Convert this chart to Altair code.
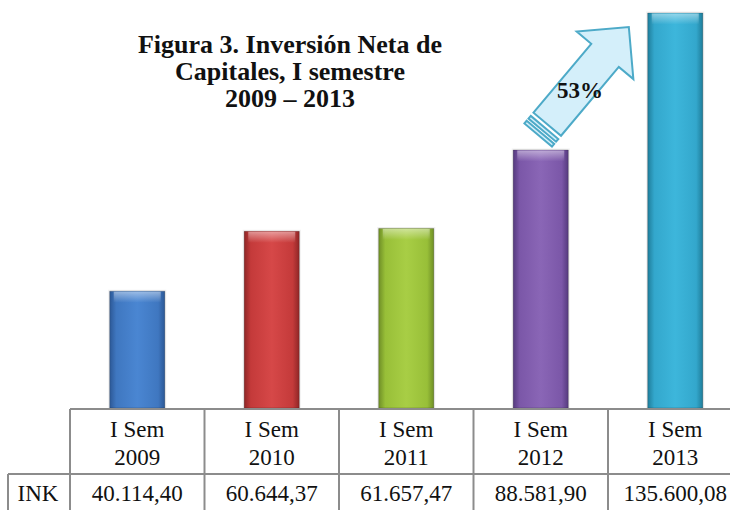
import altair as alt
import pandas as pd

# ---- data ----
years = ["2009", "2010", "2011", "2012", "2013"]
header = ["I Sem", "I Sem", "I Sem", "I Sem", "I Sem"]
values = [40114.40, 60644.37, 61657.47, 88581.90, 135600.08]
value_labels = ["40.114,40", "60.644,37", "61.657,47", "88.581,90", "135.600,08"]
row_label = ["INK"]
title_lines = ["Figura 3. Inversión Neta de", "Capitales, I semestre", "2009 – 2013"]
growth_label = ["53%"]

# bar colour ramps: (edge, mid, centre)
palette = [
    ("#2c5896", "#3f77c0", "#4a86d2"),
    ("#8e2626", "#c43a3a", "#d64848"),
    ("#6f8f26", "#98bf38", "#a8ce45"),
    ("#553a7e", "#7b57a8", "#8a66b6"),
    ("#1f7d9a", "#33a7cc", "#3db6db"),
]

df = pd.DataFrame({
    "idx": list(range(len(years))),
    "year": years,
    "header": header,
    "value": values,
    "label": value_labels,
})

serif = "'Liberation Serif', 'Times New Roman', serif"
xs = alt.Scale(domain=[0, 5], range=[70, 742.5], nice=False, zero=False)
ys = alt.Scale(domain=[0, 135600.08], range=[408, 13], nice=False, zero=True)

base = alt.Chart(df).transform_calculate(
    pos="datum.idx + 0.5",
    x0="datum.idx + 0.5 - 0.205",
    x1="datum.idx + 0.5 + 0.205",
)

layers = []

# soft shadow behind bars
layers.append(
    base.mark_bar(color="rgba(0,0,0,0.10)", stroke="rgba(0,0,0,0.06)", strokeWidth=3).encode(
        x=alt.X("x0:Q", scale=xs, axis=None),
        x2="x1:Q",
        y=alt.Y("value:Q", scale=ys, axis=None),
        y2=alt.datum(0),
    )
)

# bars, each with its own gradient
for i, (edge, mid, centre) in enumerate(palette):
    grad = alt.LinearGradient(
        gradient="linear", x1=0, x2=1, y1=0, y2=0,
        stops=[
            alt.GradientStop(offset=0, color=edge),
            alt.GradientStop(offset=0.12, color=mid),
            alt.GradientStop(offset=0.5, color=centre),
            alt.GradientStop(offset=0.88, color=mid),
            alt.GradientStop(offset=1, color=edge),
        ],
    )
    bar = base.transform_filter(alt.datum.idx == i).mark_bar(
        color=grad, stroke="rgba(0,0,0,0.18)", strokeWidth=1
    ).encode(
        x=alt.X("x0:Q", scale=xs, axis=None),
        x2="x1:Q",
        y=alt.Y("value:Q", scale=ys, axis=None),
        y2=alt.datum(0),
    )
    layers.append(bar)

# top bevel highlight
hl = alt.LinearGradient(
    gradient="linear", x1=0, x2=0, y1=0, y2=1,
    stops=[
        alt.GradientStop(offset=0, color="rgba(255,255,255,0.45)"),
        alt.GradientStop(offset=1, color="rgba(255,255,255,0.0)"),
    ],
)
layers.append(
    base.mark_tick(orient="horizontal", thickness=11, size=47, yOffset=6, color=hl, opacity=1).encode(
        x=alt.X("pos:Q", scale=xs, axis=None),
        y=alt.Y("value:Q", scale=ys, axis=None),
    )
)

# ---- table ----
line_color = "#8c8c8c"
bounds = pd.DataFrame({"b": [0, 1, 2, 3, 4]})
layers.append(
    alt.Chart(bounds).mark_rule(color=line_color, strokeWidth=2).encode(
        x=alt.X("b:Q", scale=xs, axis=None), y=alt.value(409), y2=alt.value(512)
    )
)
one = pd.DataFrame({"a": [0]})
layers.append(
    alt.Chart(one).mark_rule(color=line_color, strokeWidth=2).encode(
        x=alt.value(70), x2=alt.value(730), y=alt.value(409)
    )
)
layers.append(
    alt.Chart(one).mark_rule(color=line_color, strokeWidth=2).encode(
        x=alt.value(8), x2=alt.value(730), y=alt.value(474)
    )
)
layers.append(
    alt.Chart(one).mark_rule(color=line_color, strokeWidth=2).encode(
        x=alt.value(8), y=alt.value(474), y2=alt.value(512)
    )
)

txt = dict(font=serif, fontSize=23, color="#111111", baseline="alphabetic", align="center")
layers.append(base.mark_text(**txt).encode(x=alt.X("pos:Q", scale=xs, axis=None), y=alt.value(437), text="header:N"))
layers.append(base.mark_text(**txt).encode(x=alt.X("pos:Q", scale=xs, axis=None), y=alt.value(465), text="year:N"))
layers.append(base.mark_text(**txt).encode(x=alt.X("pos:Q", scale=xs, axis=None), y=alt.value(501), text="label:N"))
layers.append(
    alt.Chart(pd.DataFrame({"t": row_label})).mark_text(**txt).encode(
        x=alt.value(38), y=alt.value(501), text="t:N"
    )
)

# ---- arrow annotation ----
arrow_path = (
    "M0,-1 L0.525,-0.475 L0.255,-0.475 L0.255,0.8 L-0.255,0.8 L-0.255,-0.475 L-0.525,-0.475 Z "
    "M-0.255,0.86 L0.255,0.86 L0.255,0.91 L-0.255,0.91 Z "
    "M-0.255,0.95 L0.255,0.95 L0.255,1 L-0.255,1 Z"
)
layers.append(
    alt.Chart(one).mark_point(
        shape=arrow_path, size=141 * 141, angle=40, filled=True,
        color="#d4effa", stroke="#4daac8", strokeWidth=2, opacity=1,
    ).encode(x=alt.value(583.5), y=alt.value(81))
)
layers.append(
    alt.Chart(pd.DataFrame({"t": growth_label})).mark_text(
        font=serif, fontSize=23, fontWeight="bold", color="#111111", baseline="alphabetic", align="center"
    ).encode(x=alt.value(580), y=alt.value(98), text="t:N")
)

# ---- title ----
layers.append(
    alt.Chart(pd.DataFrame({"t": ["\n".join(title_lines)]})).mark_text(
        font=serif, fontSize=26, fontWeight="bold", color="#111111",
        baseline="alphabetic", align="center", lineBreak="\n", lineHeight=27,
    ).encode(x=alt.value(290), y=alt.value(53), text="t:N")
)

chart = alt.layer(*layers).properties(
    width=730, height=510, padding=0, autosize="none", background="white"
).configure_view(stroke=None)

chart.save("out.html", embed_options={"renderer": "svg", "actions": False})
